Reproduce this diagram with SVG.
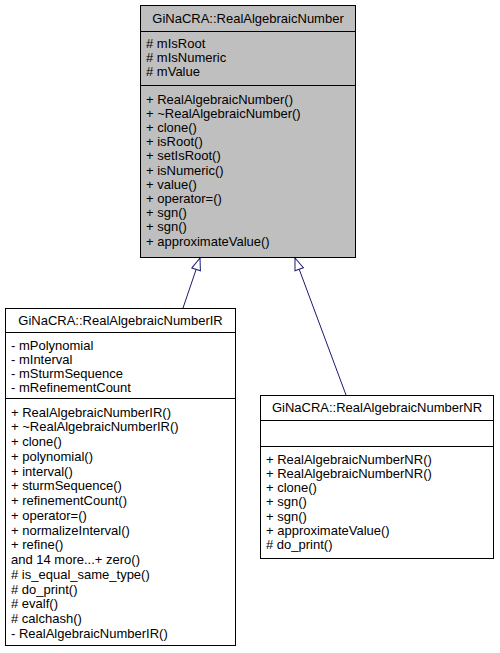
<svg xmlns="http://www.w3.org/2000/svg" width="500" height="653" viewBox="0 0 500 653">
<style>
text{font-family:"Liberation Sans",Arial,Helvetica,sans-serif;font-size:13px;fill:#000}
.t{text-anchor:middle}
.box{stroke:#000;stroke-width:1}
.sep{stroke:#000;stroke-width:1}
.edge{stroke:#191970;stroke-width:1;fill:none}
</style>
<defs>
<marker id="inh" markerUnits="userSpaceOnUse" markerWidth="14" markerHeight="12" refX="13" refY="5.5" orient="auto" viewBox="0 0 14 12">
<path d="M1,1 L13,5.5 L1,10 z" fill="#fff" stroke="#191970" stroke-width="1"/>
</marker>
</defs>
<g id="edges">
<path class="edge" d="M183,308 L200,258" marker-end="url(#inh)"/>
<path class="edge" d="M346,395 L295,258" marker-end="url(#inh)"/>
</g>
<g id="RealAlgebraicNumber">
<rect class="box" x="140.5" y="5.5" width="215" height="252" fill="#bfbfbf"/>
<text class="t" x="248" y="22.5">GiNaCRA::RealAlgebraicNumber</text>
<line class="sep" x1="140.5" y1="31.5" x2="355.5" y2="31.5"/>
<text x="146" y="47.5"># mIsRoot</text>
<text x="146" y="61.5"># mIsNumeric</text>
<text x="146" y="75.5"># mValue</text>
<line class="sep" x1="140.5" y1="85.5" x2="355.5" y2="85.5"/>
<text x="146" y="103.5">+ RealAlgebraicNumber()</text>
<text x="146" y="117.7">+ ~RealAlgebraicNumber()</text>
<text x="146" y="131.9">+ clone()</text>
<text x="146" y="146.1">+ isRoot()</text>
<text x="146" y="160.3">+ setIsRoot()</text>
<text x="146" y="174.5">+ isNumeric()</text>
<text x="146" y="188.7">+ value()</text>
<text x="146" y="202.9">+ operator=()</text>
<text x="146" y="217.1">+ sgn()</text>
<text x="146" y="231.3">+ sgn()</text>
<text x="146" y="245.5">+ approximateValue()</text>
</g>
<g id="RealAlgebraicNumberIR">
<rect class="box" x="5.5" y="308.5" width="230" height="337" fill="#fff"/>
<text class="t" x="120.5" y="325">GiNaCRA::RealAlgebraicNumberIR</text>
<line class="sep" x1="5.5" y1="332.5" x2="235.5" y2="332.5"/>
<text x="11" y="349.5">- mPolynomial</text>
<text x="11" y="363.8">- mInterval</text>
<text x="11" y="378.1">- mSturmSequence</text>
<text x="11" y="392.4">- mRefinementCount</text>
<line class="sep" x1="5.5" y1="398.5" x2="235.5" y2="398.5"/>
<text x="11" y="416.5">+ RealAlgebraicNumberIR()</text>
<text x="11" y="431.25">+ ~RealAlgebraicNumberIR()</text>
<text x="11" y="446">+ clone()</text>
<text x="11" y="460.75">+ polynomial()</text>
<text x="11" y="475.5">+ interval()</text>
<text x="11" y="490.25">+ sturmSequence()</text>
<text x="11" y="505">+ refinementCount()</text>
<text x="11" y="519.75">+ operator=()</text>
<text x="11" y="534.5">+ normalizeInterval()</text>
<text x="11" y="549.25">+ refine()</text>
<text x="11" y="564">and 14 more...+ zero()</text>
<text x="11" y="578.75"># is_equal_same_type()</text>
<text x="11" y="593.5"># do_print()</text>
<text x="11" y="608.25"># evalf()</text>
<text x="11" y="623"># calchash()</text>
<text x="11" y="637.75">- RealAlgebraicNumberIR()</text>
</g>
<g id="RealAlgebraicNumberNR">
<rect class="box" x="260.5" y="395.5" width="233" height="163" fill="#fff"/>
<text class="t" x="377" y="412">GiNaCRA::RealAlgebraicNumberNR</text>
<line class="sep" x1="260.5" y1="420.5" x2="493.5" y2="420.5"/>
<line class="sep" x1="260.5" y1="446.5" x2="493.5" y2="446.5"/>
<text x="266" y="463.5">+ RealAlgebraicNumberNR()</text>
<text x="266" y="477.8">+ RealAlgebraicNumberNR()</text>
<text x="266" y="492.1">+ clone()</text>
<text x="266" y="506.4">+ sgn()</text>
<text x="266" y="520.7">+ sgn()</text>
<text x="266" y="535">+ approximateValue()</text>
<text x="266" y="549.3"># do_print()</text>
</g>
</svg>
